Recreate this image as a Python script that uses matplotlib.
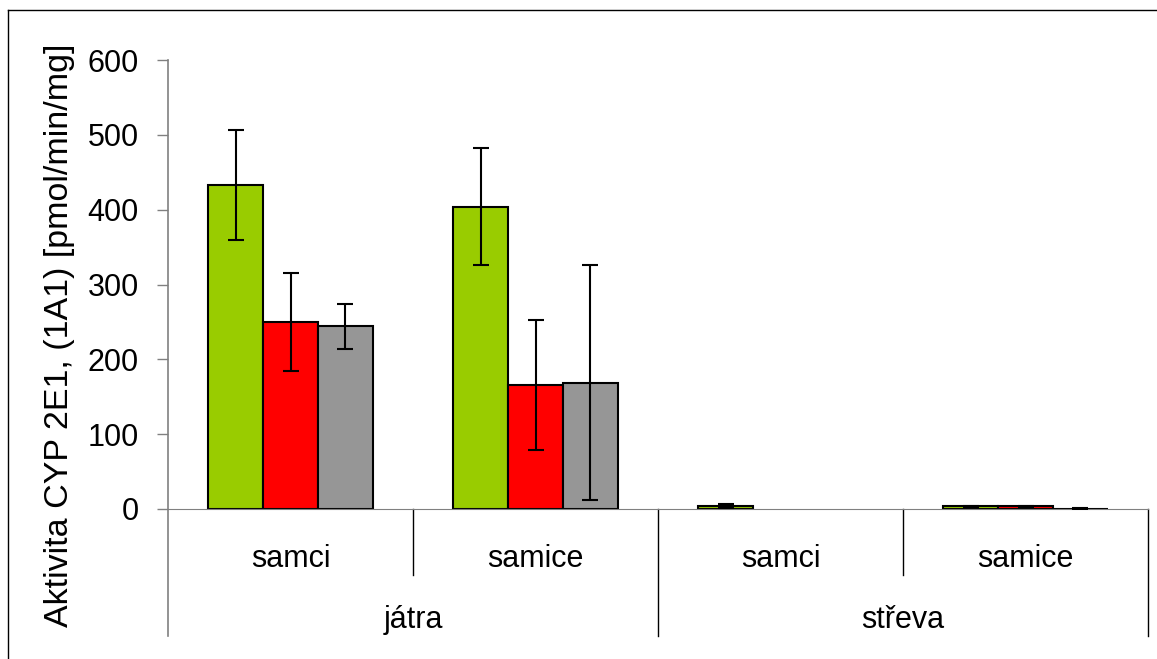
import numpy as np
import matplotlib.pyplot as plt
from matplotlib.lines import Line2D

plt.rcParams['font.family'] = ['Liberation Sans', 'DejaVu Sans']

#data
groups = ["samci", "samice", "samci", "samice"]
organs = ["játra", "střeva"]
green_vals = [433, 404, 4, 3.5]
green_err = [73, 78, 3, 1]
red_vals = [250, 166, 0, 3.5]
red_err = [65, 87, 0, 1]
grey_vals = [244, 169, 0, 0.4]
grey_err = [30, 157, 0, 0.5]

series = [(green_vals, green_err, "#99CC00"),
          (red_vals, red_err, "#FF0000"),
          (grey_vals, grey_err, "#969696")]

W, H = 1157, 659
FS = 22
fig = plt.figure(figsize=(W / 100, H / 100), dpi=100)
ax = fig.add_axes([168 / W, 1 - 509 / H, (1148 - 168) / W, (509 - 60) / H])

#bars (zero values are not drawn in the original)
x = np.arange(len(groups)) + 0.5
width = 0.2233
for j, (vals, errs, col) in enumerate(series):
    pos = x + (j - 1) * width
    edges = ["black" if v > 0 else "none" for v in vals]
    ax.bar(pos, vals, width, color=col, edgecolor=edges, linewidth=1.5, zorder=2)
    keep = [i for i, v in enumerate(vals) if v > 0]
    ax.errorbar(pos[keep], np.array(vals)[keep], yerr=np.array(errs)[keep], fmt="none",
                ecolor="black", elinewidth=1.5, capsize=6, capthick=1.5, zorder=3)

ax.set_xlim(0, 4)
ax.set_ylim(0, 600)
ax.set_yticks(range(0, 601, 100))
ax.tick_params(axis="y", labelsize=FS, length=8, width=1, color="#808080",
               direction="out", pad=13)
ax.set_xticks([])
for s in ["top", "right", "left"]:
    ax.spines[s].set_visible(False)
ax.spines["bottom"].set_color("#808080")
ax.plot([0, 0], [-127 / 449, 1], transform=ax.transAxes, color="#808080",
        lw=1.2, clip_on=False)

ax.text(-109 / 980, 174 / 449, "Aktivita CYP 2E1, (1A1) [pmol/min/mg]",
        transform=ax.transAxes, rotation=90, ha="center", va="center", fontsize=24.5)

#category axis
tr = ax.get_xaxis_transform()
for xi in [1, 3]:
    ax.plot([xi, xi], [0, -66 / 449], transform=tr, color="black", lw=1, clip_on=False)
for xi in [2, 4]:
    ax.plot([xi, xi], [0, -127 / 449], transform=tr, color="black", lw=1, clip_on=False)
for i, g in enumerate(groups):
    ax.text(i + 0.5, -50 / 449, g, transform=tr, ha="center", va="center", fontsize=FS)
for i, o in enumerate(organs):
    ax.text(2 * i + 1, -111 / 449, o, transform=tr, ha="center", va="center", fontsize=FS)

#figure border
fig.add_artist(Line2D([8 / W, 1], [1 - 10 / H, 1 - 10 / H], color="black", lw=1))
fig.add_artist(Line2D([8 / W, 8 / W], [0, 1 - 10 / H], color="black", lw=1))

fig.savefig("out.png", dpi=100)
